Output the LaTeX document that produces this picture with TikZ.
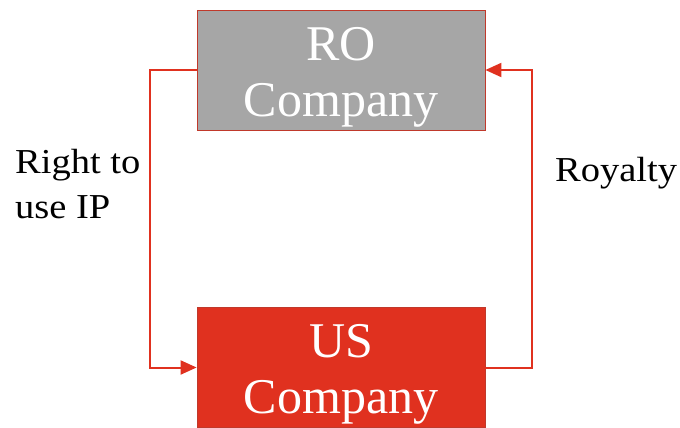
\documentclass[tikz,border=0pt]{standalone}
\usepackage{fontspec}
\setmainfont{Liberation Serif}
\newfontfamily\widerserif{Liberation Serif}[FakeStretch=1.1]
\usetikzlibrary{arrows.meta}
\definecolor{boxgray}{HTML}{A6A6A6}
\definecolor{boxred}{HTML}{E0311F}
\definecolor{edgered}{HTML}{C0392B}
\definecolor{linered}{HTML}{E0311F}
\tikzset{
  company/.style={draw=edgered, line width=0.8pt, minimum width=288pt, minimum height=120pt, inner sep=0pt},
  companytext/.style={text=white, align=center, inner sep=0pt, font=\fontsize{50}{56}\selectfont},
  flowlabel/.style={text=black, align=left, inner sep=0pt, font=\widerserif\fontsize{35}{45}\selectfont},
  flow/.style={draw=linered, line width=2pt, -{Triangle[length=16pt,width=14pt]}}
}
\begin{document}
\begin{tikzpicture}[x=1pt,y=-1pt]
  \useasboundingbox (0,0) rectangle (680,428);
  % the two companies
  \node[company, fill=boxgray] (ro) at (341,70) {};
  \node[company, fill=boxred] (us) at (341,367.5) {};
  \node[companytext] (rotext) at (341,77) {RO\\Company};
  \node[companytext] (ustext) at (341,374) {US\\Company};
  % flows between them
  \draw[flow] (ro.west) -- ++(-47,0) |- (us.west);
  \draw[flow] (us.east) -- ++(47,0) |- (ro.east);
  % flow labels
  \node[flowlabel, anchor=north west] (iplabel) at (15,149.5) {Right to\\use IP};
  \node[flowlabel, anchor=base west] (royaltylabel) at (555,181.7) {Royalty};
\end{tikzpicture}
\end{document}
